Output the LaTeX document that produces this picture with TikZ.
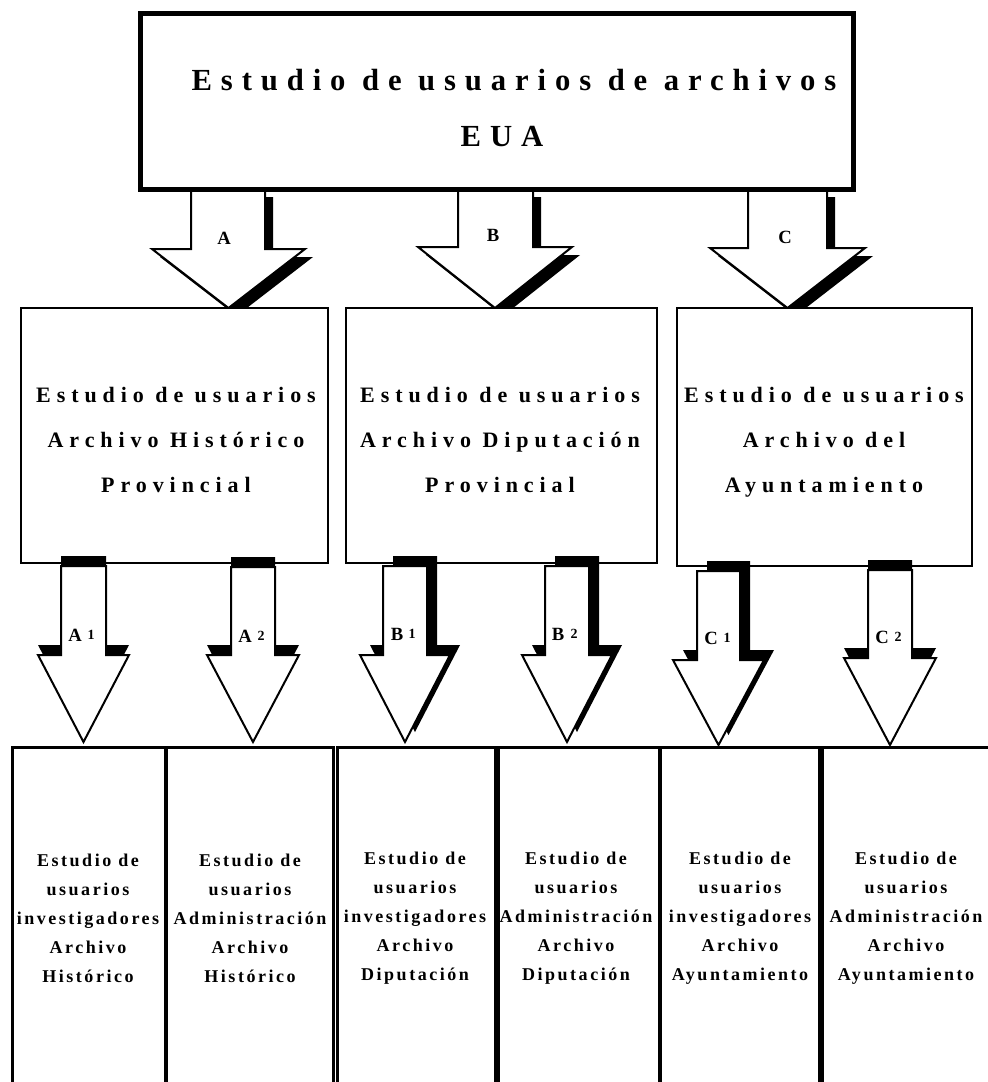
\documentclass[tikz,border=0pt]{standalone}
\usepackage{fontspec}
\setmainfont{Liberation Serif}
\newfontfamily\titlefont[LetterSpace=29]{Liberation Serif}
\newfontfamily\midfont[LetterSpace=27]{Liberation Serif}
\newfontfamily\lowfont[LetterSpace=14]{Liberation Serif}

% block arrow and its shadow: shaft left, shaft right, top, wing left, wing right, shoulder, tip, shadow dx, shadow dy
\newcommand{\blockarrow}[9]{%
  \fill ({#1+#8},{#3+#9}) -- ({#2+#8},{#3+#9}) -- ({#2+#8},{#6+#9}) -- ({#5+#8},{#6+#9}) -- ({(#4+#5)/2+#8},{#7+#9}) -- ({#4+#8},{#6+#9}) -- ({#1+#8},{#6+#9}) -- cycle;
  \draw[arrowline] (#1,#3) -- (#2,#3) -- (#2,#6) -- (#5,#6) -- ({(#4+#5)/2},#7) -- (#4,#6) -- (#1,#6) -- cycle;}

\begin{document}
\begin{tikzpicture}[x=0.75pt,y=0.75pt,yscale=-1,xscale=1,
  arrowline/.style={fill=white,draw=black,line width=1.5pt},
  topbox/.style={fill=white,draw=black,line width=3.75pt},
  midbox/.style={fill=white,draw=black,line width=1.5pt},
  lowbox/.style={fill=white,draw=black,line width=2.25pt},
  title/.style={font=\titlefont\bfseries\fontsize{23}{27}\selectfont},
  midtext/.style={align=center,font=\midfont\bfseries\fontsize{16.5}{33.75}\selectfont},
  lowtext/.style={align=center,font=\lowfont\bfseries\fontsize{13.5}{21.75}\selectfont},
  tag/.style={font=\bfseries\fontsize{14}{16}\selectfont},
  num/.style={font=\bfseries\fontsize{10.5}{12}\selectfont}]

\useasboundingbox (0,0) rectangle (988,1082);
\clip (0,0) rectangle (988,1082);
\fill[white] (0,0) rectangle (988,1082);

% arrows A, B, C
\blockarrow{191}{265}{189}{152}{305}{249}{308}{8}{8}
\blockarrow{458}{533}{189}{418}{572}{247}{308}{8}{8}
\blockarrow{748}{827}{189}{710}{865}{248}{308}{8}{8}
\node[tag] (tagA) at (224,238) {A};
\node[tag] (tagB) at (493,235) {B};
\node[tag] (tagC) at (785,237) {C};

% top box
\draw[topbox] (140,13) rectangle (853,189);
\node[title] (eua) at (514,80) {Estudio de usuarios de archivos};
\node[title] (euaabbr) at (502,137) {EUA};

% middle boxes
\draw[midbox] (21,308) rectangle (328,563);
\draw[midbox] (346,308) rectangle (657,563);
\draw[midbox] (677,308) rectangle (972,566);
\node[midtext] (hist) at (176,440) {Estudio de usuarios\\Archivo Histórico\\Provincial};
\node[midtext] (dipu) at (500,440) {Estudio de usuarios\\Archivo Diputación\\Provincial};
\node[midtext] (ayto) at (824,442) {Estudio de usuarios\\Archivo del\\Ayuntamiento};

% arrows A1 ... C2
\blockarrow{61}{106}{566}{38}{129}{655}{742}{0}{-10}
\blockarrow{231}{275}{567}{207}{299}{655}{742}{0}{-10}
\blockarrow{383}{427}{566}{360}{450}{655}{742}{10}{-10}
\blockarrow{545}{589}{566}{522}{612}{655}{742}{10}{-10}
\blockarrow{697}{740}{571}{673}{764}{660}{745}{10}{-10}
\blockarrow{868}{912}{570}{844}{936}{658}{745}{0}{-10}
\node[tag] (tagAa) at (75,635) {A};
\node[num] (numAa) at (91,635) {1};
\node[tag] (tagAb) at (245,636) {A};
\node[num] (numAb) at (261,636) {2};
\node[tag] (tagBa) at (397,634) {B};
\node[num] (numBa) at (412,634) {1};
\node[tag] (tagBb) at (558,634) {B};
\node[num] (numBb) at (574,634) {2};
\node[tag] (tagCa) at (711,638) {C};
\node[num] (numCa) at (727,638) {1};
\node[tag] (tagCb) at (882,637) {C};
\node[num] (numCb) at (898,637) {2};

% bottom boxes
\draw[lowbox] (12,747) rectangle (165,1100);
\draw[lowbox] (166,747) rectangle (333,1100);
\draw[lowbox] (337,747) rectangle (495,1100);
\draw[lowbox] (498,747) rectangle (659,1100);
\draw[lowbox] (660,747) rectangle (819,1100);
\draw[lowbox] (822,747) rectangle (990,1100);
\node[lowtext] (invhist) at (88,918) {Estudio de\\usuarios\\investigadores\\Archivo\\Histórico};
\node[lowtext] (admhist) at (250,918) {Estudio de\\usuarios\\Administración\\Archivo\\Histórico};
\node[lowtext] (invdipu) at (415,918) {Estudio de\\usuarios\\investigadores\\Archivo\\Diputación};
\node[lowtext] (admdipu) at (576,918) {Estudio de\\usuarios\\Administración\\Archivo\\Diputación};
\node[lowtext] (invayto) at (740,918) {Estudio de\\usuarios\\investigadores\\Archivo\\Ayuntamiento};
\node[lowtext] (admayto) at (906,918) {Estudio de\\usuarios\\Administración\\Archivo\\Ayuntamiento};

\end{tikzpicture}
\end{document}
